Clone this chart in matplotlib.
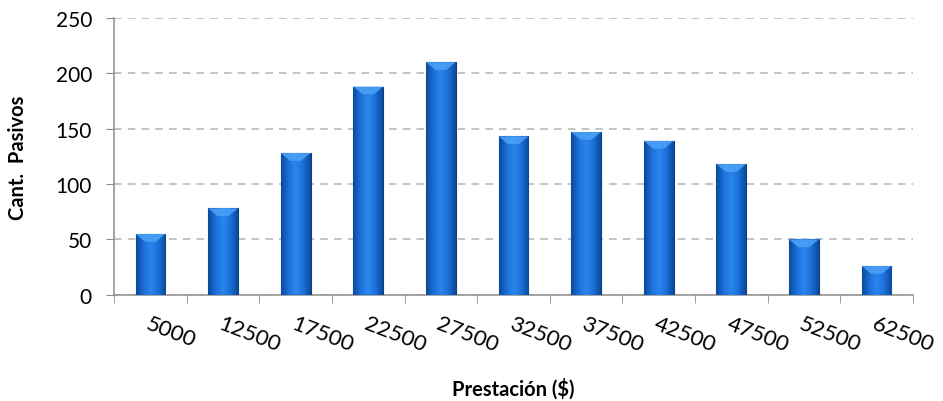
import numpy as np
import matplotlib.pyplot as plt
from matplotlib.patches import Polygon
from matplotlib.colors import LinearSegmentedColormap

# Prestación brackets and number of pensioners in each
categorias = ['5000', '12500', '17500', '22500', '27500', '32500',
              '37500', '42500', '47500', '52500', '62500']
pasivos = [55, 78, 128, 188, 210, 143, 147, 139, 118, 50, 26]

plt.rcParams['font.family'] = ['Lato', 'DejaVu Sans']

fig = plt.figure(figsize=(9.43, 4.02), dpi=100)
ax = fig.add_axes([0.121, 0.264, 0.847, 0.689])

x = np.arange(len(categorias))
width = 0.41

# horizontal shading across each bar: dark edges, bright middle
shade = LinearSegmentedColormap.from_list(
    'barra', ['#0b4a9c', '#1b70d8', '#2a86ee', '#1b70d8', '#0b4a9c'])
grad = np.linspace(0, 1, 64).reshape(1, -1)

bars = ax.bar(x, pasivos, width, color='#1b6fd8', edgecolor='#0a3f86',
              linewidth=0.8, zorder=3)
for rect, v in zip(bars, pasivos):
    x0 = rect.get_x()
    w = rect.get_width()
    im = ax.imshow(grad, cmap=shade, extent=[x0, x0 + w, 0, v],
                   aspect='auto', zorder=3.5, interpolation='bicubic')
    im.set_clip_path(rect)
    # bevelled top face
    bev = 7.0
    cap = Polygon([[x0, v], [x0 + w, v], [x0 + w * 0.68, v - bev],
                   [x0 + w * 0.32, v - bev]],
                  closed=True, facecolor='#4a9ff6', edgecolor='none',
                  alpha=0.9, zorder=4)
    ax.add_patch(cap)

ax.set_xlim(-0.5, len(categorias) - 0.5)
ax.set_ylim(0, 250)
ax.set_yticks(np.arange(0, 251, 50))

ax.set_xticks(x)
ax.set_xticklabels(categorias, rotation=-21, ha='left', va='top',
                   rotation_mode='anchor', fontsize=16)
ax.set_xticks(np.arange(-0.5, len(categorias), 1), minor=True)
ax.tick_params(axis='x', which='major', length=0, pad=13)
ax.tick_params(axis='x', which='minor', length=6, color='#8c8c8c',
               direction='out')
ax.tick_params(axis='y', length=6, color='#8c8c8c', labelsize=15, pad=10)

ax.grid(axis='y', linestyle=(0, (5, 4)), color='#b4b4b4', linewidth=1.1,
        zorder=0)
ax.set_axisbelow(True)

for side in ['top', 'right']:
    ax.spines[side].set_visible(False)
for side in ['left', 'bottom']:
    ax.spines[side].set_color('#8c8c8c')
    ax.spines[side].set_linewidth(1.1)

ax.set_xlabel('Prestación ($)', fontsize=14.5, fontweight='bold', labelpad=16)
ax.set_ylabel('Cant.  Pasivos', fontsize=14.5, fontweight='bold', labelpad=20)

fig.savefig('out.png', dpi=100)
